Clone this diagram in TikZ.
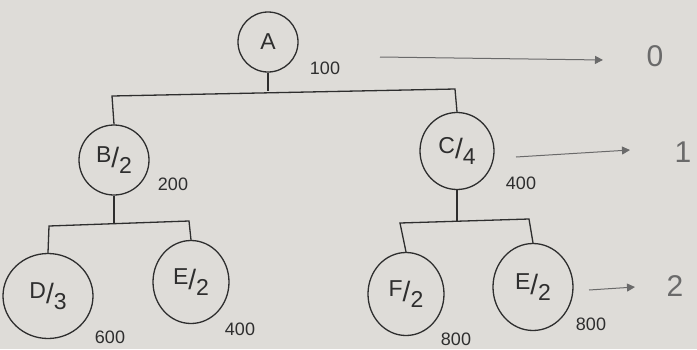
\documentclass[tikz,border=0pt]{standalone}
\usepackage{fontspec}
\setmainfont{Liberation Sans}
\usetikzlibrary{shapes.geometric,arrows.meta}
\definecolor{paper}{HTML}{DEDCD8}
\definecolor{ink}{HTML}{2E2E2E}
\definecolor{pencil}{HTML}{6A6A6A}
\newcommand{\frc}[2]{\raisebox{5pt}{#1}{\fontsize{28}{28}\selectfont/}\raisebox{-6pt}{#2}}
\tikzset{
  vert/.style={draw=ink, line width=1.3pt, ellipse, inner sep=0pt, text=ink,
    font=\fontsize{23}{23}\selectfont},
  cost/.style={text=ink, font=\fontsize{18}{18}\selectfont, inner sep=0pt},
  lvl/.style={text=pencil, font=\fontsize{30}{30}\selectfont, inner sep=0pt},
  edge/.style={draw=ink, line width=1.3pt},
  lvlarrow/.style={draw=pencil, line width=1pt, -{Triangle[length=8pt,width=8pt]}}
}
\begin{document}
\begin{tikzpicture}[x=1pt,y=-1pt]
\fill[paper] (0,0) rectangle (697,349);
\useasboundingbox (0,0) rectangle (697,349);
% vertices
\node[vert, minimum width=60pt, minimum height=60pt] (A) at (268,42) {A};
\node[vert, minimum width=70pt, minimum height=70pt] (B) at (114,160) {\frc{B}{2}};
\node[vert, minimum width=74pt, minimum height=77pt] (C) at (457,151) {\frc{C}{4}};
\node[vert, minimum width=90pt, minimum height=85pt] (D) at (48,296) {\frc{D}{3}};
\node[vert, minimum width=76pt, minimum height=83pt] (E1) at (191,282) {\frc{E}{2}};
\node[vert, minimum width=76pt, minimum height=83pt] (F) at (406,294) {\frc{F}{2}};
\node[vert, minimum width=80pt, minimum height=87pt] (E2) at (533,287) {\frc{E}{2}};
% costs
\node[cost] (cA) at (325,68) {100};
\node[cost] (cB) at (173,184) {200};
\node[cost] (cC) at (521,183) {400};
\node[cost] (cD) at (110,337) {600};
\node[cost] (cE1) at (240,329) {400};
\node[cost] (cF) at (456,339) {800};
\node[cost] (cE2) at (591,324) {800};
% level labels
\node[lvl] (l0) at (655,56) {0};
\node[lvl] (l1) at (683,152) {1};
\node[lvl] (l2) at (675,286) {2};
% level arrows
\coordinate (a0s) at (380,57);
\coordinate (a0e) at (603,60);
\coordinate (a1s) at (516,157);
\coordinate (a1e) at (630,150);
\coordinate (a2s) at (589,290);
\coordinate (a2e) at (635,287);
\draw[lvlarrow] (a0s) -- (a0e);
\draw[lvlarrow] (a1s) -- (a1e);
\draw[lvlarrow] (a2s) -- (a2e);
% tree edges
\coordinate (jA) at (A.south |- 0,91);
\coordinate (bAl) at (112,96);
\coordinate (bAr) at (455,89);
\draw[edge] (A.south) -- (jA);
\draw[edge] (B.north) -- (bAl) -- (bAr) -- (C.north);
\coordinate (jB) at (B.south |- 0,223);
\coordinate (bBl) at (49,226);
\coordinate (bBr) at (189,221);
\draw[edge] (B.south) -- (jB);
\draw[edge] (D.north) -- (bBl) -- (bBr) -- (E1.north);
\coordinate (jC) at (C.south |- 0,221);
\coordinate (bCl) at (400,223);
\coordinate (bCr) at (529,219);
\draw[edge] (C.south) -- (jC);
\draw[edge] (F.north) -- (bCl) -- (bCr) -- (E2.north);
\end{tikzpicture}
\end{document}
